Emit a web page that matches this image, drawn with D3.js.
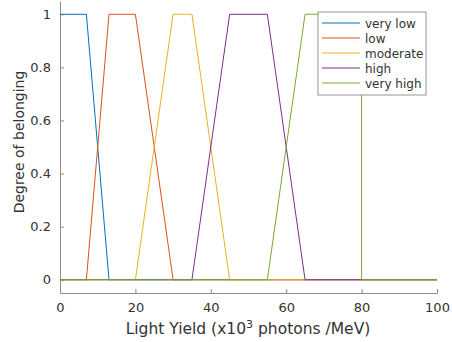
<!DOCTYPE html>
<html>
<head>
<meta charset="utf-8">
<script src="https://cdn.jsdelivr.net/npm/d3@7"></script>
<style>
  body { margin: 0; background: #fff; }
  svg text { font-family: "DejaVu Sans", sans-serif; fill: #333; }
</style>
</head>
<body>
<svg width="452" height="342"></svg>
<script>
// membership functions, sampled at their corner points
const labels = ["very low", "low", "moderate", "high", "very high"];
const colors = ["#0072BD", "#D95319", "#EDB120", "#7E2F8E", "#77AC30"];
const veryLow = [[0, 1], [7, 1], [13, 0], [100, 0]];
const low = [[0, 0], [7, 0], [13, 1], [20, 1], [30, 0], [100, 0]];
const moderate = [[0, 0], [20, 0], [30, 1], [35, 1], [45, 0], [100, 0]];
const high = [[0, 0], [35, 0], [45, 1], [55, 1], [65, 0], [100, 0]];
const veryHigh = [[0, 0], [55, 0], [65, 1], [80, 1], [80, 0], [100, 0]];
const series = [veryLow, low, moderate, high, veryHigh];

const xTicks = [0, 20, 40, 60, 80, 100];
const yTicks = [0, 0.2, 0.4, 0.6, 0.8, 1];

var svg = d3.select("svg");
var x = d3.scaleLinear().domain([0, 100]).range([60, 437]);
var y = d3.scaleLinear().domain([-0.05, 1.05]).range([293, 1]);

const g = svg.append("g");

// bottom axis
var xAxis = g.append("g")
  .attr("transform", "translate(0," + y(-0.05) + ")")
  .call(d3.axisBottom(x).tickValues(xTicks).tickSizeInner(-4).tickSizeOuter(0).tickPadding(10).tickFormat(d3.format("d")));
// left axis
var yAxis = g.append("g")
  .attr("transform", "translate(" + x(0) + ",0)")
  .call(d3.axisLeft(y).tickValues(yTicks).tickSizeInner(-4).tickSizeOuter(0).tickPadding(9).tickFormat(d => d));

[xAxis, yAxis].forEach(function (a) {
  a.select(".domain").attr("stroke", "#8c8c8c");
  a.selectAll(".tick line").attr("stroke", "#8c8c8c");
  a.selectAll(".tick text").style("font-size", "13px").style("font-family", "DejaVu Sans, sans-serif").attr("fill", "#333");
});

// lines
var line = d3.line().x(d => x(d[0])).y(d => y(d[1]));
g.selectAll("path.mf")
  .data(series)
  .enter()
  .append("path")
  .attr("class", "mf")
  .attr("d", line)
  .attr("fill", "none")
  .attr("stroke", (d, i) => colors[i])
  .attr("stroke-width", 1);

// axis labels
svg.append("text")
  .attr("x", 248).attr("y", 334)
  .attr("text-anchor", "middle")
  .style("font-size", "15.5px")
  .html('Light Yield (x10<tspan dy="-6" font-size="11px">3</tspan><tspan dy="6"> photons /MeV)</tspan>');

svg.append("text")
  .attr("transform", "translate(24,142) rotate(-90)")
  .attr("text-anchor", "middle")
  .style("font-size", "14px")
  .text("Degree of belonging");

// legend
var legend = svg.append("g").attr("transform", "translate(318,12)");
legend.append("rect")
  .attr("width", 108).attr("height", 83)
  .attr("fill", "#fff").attr("stroke", "#7a7a7a").attr("stroke-width", 0.8);
labels.forEach(function (name, i) {
  var row = legend.append("g").attr("transform", "translate(0," + (11 + i * 15) + ")");
  row.append("line").attr("x1", 4).attr("x2", 42).attr("y1", 0).attr("y2", 0)
    .attr("stroke", colors[i]).attr("stroke-width", 1);
  row.append("text").attr("x", 47).attr("y", 4.5).style("font-size", "12px").text(name);
});
</script>
</body>
</html>
